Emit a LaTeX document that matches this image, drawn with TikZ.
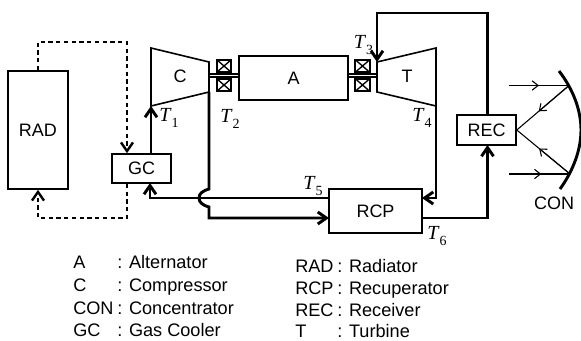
\documentclass[tikz,border=0pt]{standalone}
\usepackage{fontspec}
\setmainfont{Liberation Sans}
\newfontfamily\serifT{Liberation Serif}
\usetikzlibrary{arrows.meta,positioning,calc}
\newcommand{\tempT}[1]{{\serifT\fontsize{15}{15}\selectfont\itshape T\kern0.8pt\raisebox{-4.5pt}{\upshape\fontsize{10.5}{10.5}\selectfont #1}}}
\begin{document}
\begin{tikzpicture}[x=0.75pt,y=-0.75pt, >={Straight Barb[length=6.5pt,width=9pt]},
            line cap=butt, line join=miter,
            unit/.style={draw,line width=1.2pt,inner sep=0pt,font=\fontsize{13.5}{15}\selectfont},
            part/.style={line width=1.2pt},
            flow/.style={line width=2.2pt,->},
            dashflow/.style={line width=1.8pt,dash pattern=on 3.2pt off 2.6pt,->},
            ray/.style={line width=0.8pt},
            rayhead/.style={line width=0.8pt,-{Straight Barb[length=4.5pt,width=7pt]}},
            bearing/.style={draw,line width=1.5pt,minimum width=11pt,minimum height=9.5pt,inner sep=0pt,
                path picture={\draw[line width=1pt] (path picture bounding box.north west) -- (path picture bounding box.south east)
                    (path picture bounding box.north east) -- (path picture bounding box.south west);}},
            legend/.style={anchor=base west,inner sep=0pt,font=\fontsize{13.6}{15}\selectfont}
        ]
        \useasboundingbox (0,0) rectangle (581,340);

        % (1) Boxes
        \node[unit,minimum width=45pt,minimum height=88.5pt] (RAD) at (38,130) {RAD};
        \node[unit,minimum width=44.25pt,minimum height=21.75pt] (GC) at (141.5,168.5) {GC};
        \node[unit,minimum width=81.75pt,minimum height=33pt] (A) at (293.5,78) {A};
        \node[unit,minimum width=44.25pt,minimum height=22.5pt] (REC) at (486.5,130) {REC};
        \node[unit,minimum width=69.75pt,minimum height=33pt] (RCP) at (375.5,211) {RCP};

        % (2) Compressor and turbine
        \coordinate (Ctl) at (151,48);
        \coordinate (Ctr) at (209,62);
        \coordinate (Cbr) at (209,92);
        \coordinate (Cbl) at (151,106);
        \coordinate (Ttl) at (377,62);
        \coordinate (Ttr) at (436,48);
        \coordinate (Tbr) at (436,106);
        \coordinate (Tbl) at (377,92);
        \draw[part] (Ctl) -- (Ctr) -- (Cbr) -- (Cbl) -- cycle;
        \draw[part] (Ttl) -- (Ttr) -- (Tbr) -- (Tbl) -- cycle;
        \node[font=\fontsize{13.5}{15}\selectfont] (C) at (180,76) {C};
        \node[font=\fontsize{13.5}{15}\selectfont] (T) at (407,76) {T};

        % (3) Shaft and bearings
        \foreach \nm/\xa/\xb in {sl/209/239,sr/348/377}{
            \coordinate (\nm a) at (\xa,74);
            \coordinate (\nm b) at (\xb,74);
            \coordinate (\nm c) at (\xa,77);
            \coordinate (\nm d) at (\xb,77);
            \draw[line width=0.9pt] (\nm a) -- (\nm b) (\nm c) -- (\nm d);
        }
        \foreach \nm/\xpos/\ypos in {b1/224/66,b2/224/85,b3/362.5/66,b4/362.5/85}{
            \node[bearing] (\nm) at (\xpos,\ypos) {};
        }

        % (4) Working fluid loop
        \coordinate (rcpa) at (422,198);
        \coordinate (rcpb) at (422,218);
        \coordinate (rcpc) at (329,198);
        \coordinate (rcpd) at (329,218);
        \coordinate (gcin) at (150,183);
        \coordinate (topleft) at (377,13);
        \coordinate (hopa) at (209,189);
        \coordinate (hopb) at (209,207);
        \coordinate (hopm) at (199,198);
        \coordinate (recin) at (487.5,145);

        \draw[flow] (GC.north -| Cbl) -- (Cbl);
        \draw[flow] (Cbr) -- (hopa) .. controls (202,191) and (199,194) .. (hopm)
            .. controls (199,202) and (202,205) .. (hopb) |- (rcpd);
        \draw[flow] (Tbr) |- (rcpa);
        \draw[flow] (rcpc) -| (gcin);
        \draw[flow] (rcpb) -| (recin);
        \draw[flow] (REC.north -| recin) |- (topleft) -- (Ttl);

        % (5) Radiator loop
        \coordinate (dtop) at (127,42);
        \coordinate (dbot) at (127,218);
        \draw[dashflow] (RAD.north) |- (dtop) -- (dtop |- GC.north);
        \draw[dashflow] (dbot |- GC.south) -- (dbot) -| (RAD.south);

        % (6) Concentrator
        \coordinate (cona) at (559,71);
        \coordinate (conb) at (581,130);
        \coordinate (conc) at (560,189);
        \draw[line width=2.2pt] (cona) .. controls (573,89) and (581,110) .. (conb)
            .. controls (581,150) and (573,171) .. (conc);
        \node[font=\fontsize{13.5}{15}\selectfont] (CON) at (554,203) {CON};

        % (7) Sun rays
        \coordinate (ra) at (509,85.5);
        \coordinate (rb) at (569,85.5);
        \coordinate (rc) at (509,174);
        \coordinate (rd) at (570,174);
        \coordinate (re) at (REC.east);
        \draw[rayhead] (ra) -- ($(ra)!0.5!(rb)$);
        \draw[ray] (ra) -- (rb);
        \draw[rayhead] (rc) -- ($(rc)!0.53!(rd)$);
        \draw[ray] (rc) -- (rd);
        \draw[rayhead] (rb) -- ($(rb)!0.58!(re)$);
        \draw[ray] (rb) -- (re);
        \draw[rayhead] (rd) -- ($(rd)!0.58!(re)$);
        \draw[ray] (rd) -- (re);

        % (8) Temperature labels
        \foreach \nm/\xpos/\ypos in {1/169/118,2/230/119,3/363.5/45,4/422/118,5/313/186,6/437/236}{
            \node[inner sep=0pt] (t\nm) at (\xpos,\ypos) {\tempT{\nm}};
        }

        % (9) Legend
        \foreach \key/\desc/\ypos [count=\i] in {A/Alternator/268,C/Compressor/291,CON/Concentrator/314,GC/Gas Cooler/336}{
            \node[legend] (la\i) at (73,\ypos) {\key};
            \node[legend] (lb\i) at (117,\ypos) {: \desc};
        }
        \foreach \key/\desc/\ypos [count=\i] in {RAD/Radiator/272,RCP/Recuperator/294,REC/Receiver/316,T/Turbine/337}{
            \node[legend] (ra\i) at (295,\ypos) {\key};
            \node[legend] (rb\i) at (337,\ypos) {: \desc};
        }
\end{tikzpicture}
\end{document}
